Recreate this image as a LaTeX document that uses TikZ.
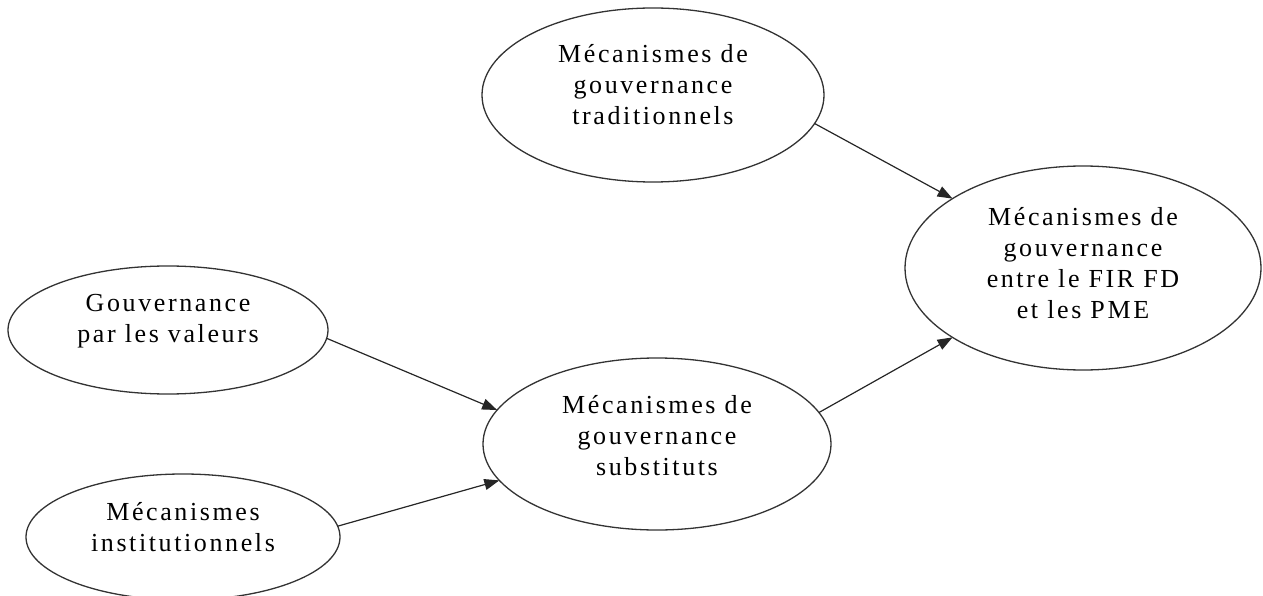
\documentclass[tikz,border=0pt]{standalone}
\usepackage{fontspec}
\setmainfont{Liberation Serif}[LetterSpace=10]
\usetikzlibrary{shapes.geometric,arrows.meta}
\begin{document}
\begin{tikzpicture}[x=1pt,y=-1pt,
  ell/.style={draw=black!80, line width=1.3pt, ellipse, inner sep=0pt, outer sep=0pt},
  lbl/.style={align=center, font=\fontsize{26}{31}\selectfont, inner sep=0pt},
  link/.style={draw=black!85, line width=1.2pt, -{Triangle[length=15pt,width=11pt]}}]
\useasboundingbox (0,0) rectangle (1263,596);

% ellipses
\node[ell, minimum width=342pt, minimum height=174pt] (trad) at (653,95) {};
\node[ell, minimum width=356pt, minimum height=204pt] (fir)  at (1083,268) {};
\node[ell, minimum width=320pt, minimum height=128pt] (val)  at (168,330) {};
\node[ell, minimum width=348pt, minimum height=172pt] (sub)  at (657,444) {};
\node[ell, minimum width=314pt, minimum height=126pt] (inst) at (183,537) {};

% labels
\node[lbl] (trad-t) at (653,85) {Mécanismes de\\gouvernance\\traditionnels};
\node[lbl] (fir-t)  at (1083,263) {Mécanismes de\\gouvernance\\entre le FIR FD\\et les PME};
\node[lbl] (val-t)  at (168,321) {Gouvernance\\par les valeurs};
\node[lbl] (sub-t)  at (657,436) {Mécanismes de\\gouvernance\\substituts};
\node[lbl] (inst-t) at (183,527) {Mécanismes\\institutionnels};

% connectors
\draw[link] (trad.-10.6) -- (fir.152);
\draw[link] (sub.11.1) -- (fir.208.8);
\draw[link] (val.-3.6) -- (sub.168.1);
\draw[link] (inst.4.7) -- (sub.193.4);
\end{tikzpicture}
\end{document}
